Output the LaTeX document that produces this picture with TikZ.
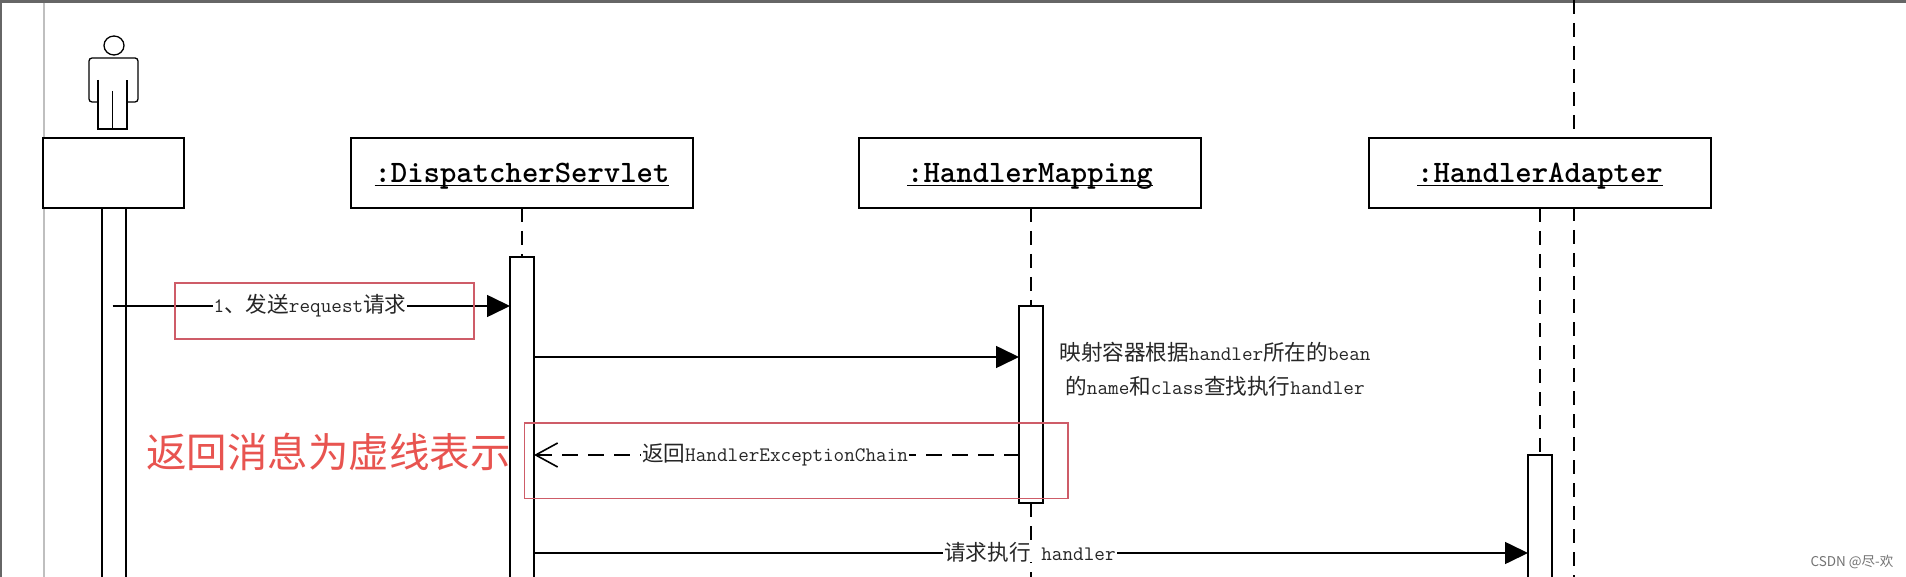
\documentclass[tikz,border=0pt]{standalone}
\usepackage{fontspec}
\newfontfamily\cjkfont{Noto Sans CJK SC}
\usetikzlibrary{arrows.meta,positioning}
\newcommand{\hz}[1]{{\fontsize{21.6}{24}\selectfont\cjkfont #1}}
\newcommand{\objname}[1]{\setbox0\hbox{#1}\rlap{\rule[-3.5pt]{\wd0}{1.3pt}}\box0}
\definecolor{markred}{RGB}{206,92,104}
\definecolor{bigred}{RGB}{232,84,80}

\begin{document}
\begin{tikzpicture}[
    x=1pt, y=-1pt,
    line width=1.6pt,
    node distance=166pt,
    every node/.style={inner sep=0pt, outer sep=0pt, font=\fontsize{20.6}{24}\selectfont\ttfamily, text=black!85},
    obj/.style={draw, fill=white, minimum width=342pt, minimum height=70pt, text height=24pt, text depth=4pt, font=\fontsize{31.2}{34}\selectfont\ttfamily\bfseries, text=black},
    bar/.style={draw, fill=white, anchor=north, minimum width=24pt},
    life/.style={dash pattern=on 14pt off 9pt},
    msg/.style={-{Triangle[length=23pt,width=22pt]}},
    ret/.style={{Straight Barb[length=22pt,width=24pt]}-, dash pattern=on 16pt off 10pt},
    redbox/.style={draw=markred, line width=1.4pt},
    lbl/.style={fill=white, inner xsep=1pt},
  ]
    \clip (0,0) rectangle (1906,577);
    \fill[white] (0,0) rectangle (1906,577);
    % window edges
    \fill[black!60] (0,0) rectangle (1906,3);
    \fill[black!60] (0,0) rectangle (1.5,577);
    \draw[black!25, line width=1.2pt] (44,3) -- (44,577);
    \draw[life, line width=1.4pt] (1574,0) -- (1574,577);
    % objects
    \node[obj, minimum width=141pt, anchor=north west] (actorbox) at (43,138) {};
    \node[obj, right=167pt of actorbox] (dispbox) {\objname{:DispatcherServlet}};
    \node[obj, right=of dispbox] (mapbox) {\objname{:HandlerMapping}};
    \node[obj, right=168pt of mapbox] (adaptbox) {\objname{:HandlerAdapter}};
    % actor figure
    \draw[line width=1.3pt] (114,45.5) ellipse (10 and 9.5);
    \draw[line width=1.3pt, rounded corners=3pt] (98,102) -- (89,102) -- (89,58) -- (138,58) -- (138,102) -- (127,102);
    \draw[line width=1.3pt] (98,80) -- (98,129) -- (127,129) -- (127,80) (112.5,91) -- (112.5,129);
    % activation bars
    \node[bar, minimum height=400pt] (actorbar) at (114,208) {};
    \node[bar, minimum height=350pt] (dispbar) at (522,257) {};
    \node[bar, minimum height=197pt] (mapbar) at (1031,306) {};
    \node[bar, minimum height=150pt] (adaptbar) at (1540,455) {};
    \draw[life] (dispbox.south) -- (dispbar.north);
    \draw[life] (mapbar.north |- mapbox.south) -- (mapbar.north);
    \draw[life] (mapbar.south) -- (1031,577);
    \draw[life] (adaptbar.north |- adaptbox.south) -- (adaptbar.north);
    % messages
    \coordinate (m1) at (112.5,306);
    \coordinate (m2) at (dispbar.east |- 0,357);
    \coordinate (m3) at (mapbar.west |- 0,455);
    \coordinate (m4) at (dispbar.east |- 0,553);
    \draw[msg] (m1) -- (m1 -| dispbar.west);
    \draw[msg] (m2) -- (m2 -| mapbar.west);
    \draw[ret] (m3 -| dispbar.east) -- (m3);
    \draw[msg] (m4) -- (m4 -| adaptbar.west);
    \node[lbl] (m1txt) at (310,306) {1\hz{、发送}request\hz{请求}};
    \node[lbl] (m3txt) at (775,455) {\hz{返回}HandlerExceptionChain};
    \node[lbl] (m4txt) at (1030,552) {\hz{请求执行} handler};
    \node (noteone) at (1215,352) {\hz{映射容器根据}handler\hz{所在的}bean};
    \node (notetwo) at (1215,386) {\hz{的}name\hz{和}class\hz{查找执行}handler};
    % red marks
    \draw[redbox] (175,283) rectangle (474,339);
    \draw[redbox] (524.5,423) rectangle (1068,498.5);
    \node[text=bigred, font=\fontsize{40.5}{44}\selectfont\cjkfont] (marktxt) at (328.5,452) {返回消息为虚线表示};
    \node[text=black!55, font=\fontsize{13.5}{16}\selectfont\cjkfont] (wmark) at (1852,562) {CSDN @尽-欢};
  \end{tikzpicture}
\end{document}
